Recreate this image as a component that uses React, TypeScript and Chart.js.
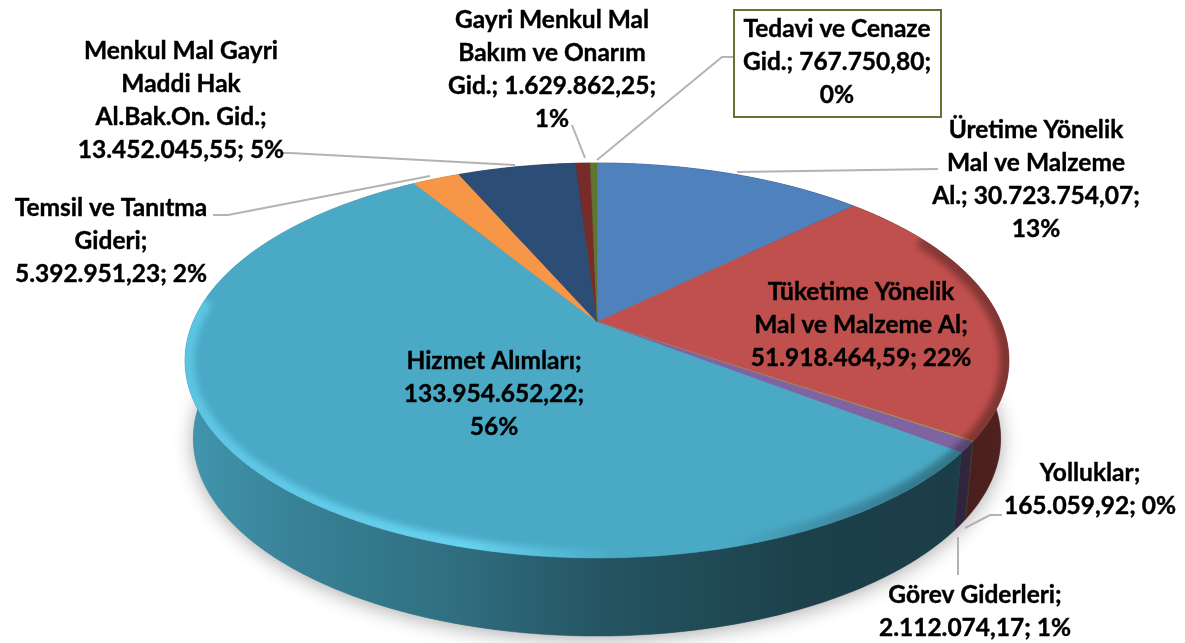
import React, { useEffect, useRef } from "react";
import { Chart, registerables } from "chart.js";

Chart.register(...registerables);

const categories = [
  "Üretime Yönelik Mal ve Malzeme Al.",
  "Tüketime Yönelik Mal ve Malzeme Al",
  "Yolluklar",
  "Görev Giderleri",
  "Hizmet Alımları",
  "Temsil ve Tanıtma Gideri",
  "Menkul Mal Gayri Maddi Hak Al.Bak.On. Gid.",
  "Gayri Menkul Mal Bakım ve Onarım Gid.",
  "Tedavi ve Cenaze Gid.",
];
const values = [
  30723754.07, 51918464.59, 165059.92, 2112074.17, 133954652.22, 5392951.23,
  13452045.55, 1629862.25, 767750.8,
];
const sliceColors = [
  "#4f81bd", "#c0504d", "#a9a84a", "#8064a2", "#4aaac6", "#f79646", "#2c4d75", "#772c2a", "#5f7530",
];
const labelLines = [
  ["Üretime Yönelik", "Mal ve Malzeme", "Al.; 30.723.754,07;", "13%"],
  ["Tüketime Yönelik", "Mal ve Malzeme Al;", "51.918.464,59; 22%"],
  ["Yolluklar;", "165.059,92; 0%"],
  ["Görev Giderleri;", "2.112.074,17; 1%"],
  ["Hizmet Alımları;", "133.954.652,22;", "56%"],
  ["Temsil ve Tanıtma", "Gideri;", "5.392.951,23; 2%"],
  ["Menkul Mal Gayri", "Maddi Hak", "Al.Bak.On. Gid.;", "13.452.045,55; 5%"],
  ["Gayri Menkul Mal", "Bakım ve Onarım", "Gid.; 1.629.862,25;", "1%"],
  ["Tedavi ve Cenaze", "Gid.; 767.750,80;", "0%"],
];

// Layout only (pixel placement of the annotations)
const labelAnchors: [number, number][] = [
  [1036, 130], [861, 292], [1090, 473], [975, 595], [494, 361], [111, 208], [181, 51], [552, 20], [837, 29],
];
const leaders: [number, number][][] = [
  [[737, 172], [938, 169]],
  [],
  [[965, 528], [990, 515], [1002, 515]],
  [[958, 537], [958, 575]],
  [],
  [[430, 176], [228, 215], [213, 215]],
  [[515, 165], [290, 153], [283, 153]],
  [[585, 158], [572, 125]],
  [[597, 160], [722, 57], [733, 57]],
];
const P = { cx: 597, cy: 322, A: 404, B: 190, p: 0.195, depth: 78, shrink: 0.98 };
const wallStops: [number, number][] = [
  [185, 0.88], [300, 0.76], [450, 0.65], [600, 0.5], [800, 0.38], [950, 0.36], [1010, 0.42],
];

function top(t: number): [number, number] {
  const w = 1 - P.p * Math.sin(t);
  return [P.cx + (P.A * Math.cos(t)) / w, P.cy + (P.B * Math.sin(t)) / w];
}
function bottom(t: number): [number, number] {
  const [x, y] = top(t);
  return [P.cx + (x - P.cx) * P.shrink, y + P.depth];
}
function rgb(hex: string, k: number) {
  const n = parseInt(hex.slice(1), 16);
  return `rgb(${((n >> 16) & 255) * k},${((n >> 8) & 255) * k},${(n & 255) * k})`;
}
function samples(a: number, b: number) {
  const out: number[] = [];
  const n = Math.max(2, Math.ceil((b - a) / 0.01));
  for (let i = 0; i <= n; i++) out.push(a + ((b - a) * i) / n);
  return out;
}

const pie3d = {
  id: "pie3d",
  beforeDatasetsDraw(chart: any) {
    const ctx: CanvasRenderingContext2D = chart.ctx;
    const arcs = chart.getDatasetMeta(0).data;
    ctx.save();
    // soft ground shadow
    ctx.save();
    ctx.shadowColor = "rgba(0,0,0,0.33)";
    ctx.shadowBlur = 20;
    ctx.shadowOffsetY = 3;
    ctx.fillStyle = "#888";
    ctx.beginPath();
    samples(0, Math.PI * 2).forEach((t) => ctx.lineTo(...bottom(t)));
    ctx.closePath();
    ctx.fill();
    ctx.restore();
    // outer walls
    arcs.forEach((arc: any, i: number) => {
      const g = ctx.createLinearGradient(185, 0, 1010, 0);
      wallStops.forEach(([x, k]) => g.addColorStop((x - 185) / 825, rgb(sliceColors[i], k)));
      ctx.fillStyle = g;
      ctx.strokeStyle = g;
      ctx.lineWidth = 0.5;
      const ts = samples(arc.startAngle, arc.endAngle);
      ctx.beginPath();
      ts.forEach((t) => ctx.lineTo(...top(t)));
      ts.slice().reverse().forEach((t) => ctx.lineTo(...bottom(t)));
      ctx.closePath();
      ctx.fill();
      ctx.stroke();
    });
    // top faces
    arcs.forEach((arc: any, i: number) => {
      ctx.fillStyle = sliceColors[i];
      ctx.strokeStyle = sliceColors[i];
      ctx.lineWidth = 0.4;
      ctx.beginPath();
      ctx.moveTo(P.cx, P.cy);
      samples(arc.startAngle, arc.endAngle).forEach((t) => ctx.lineTo(...top(t)));
      ctx.closePath();
      ctx.fill();
      ctx.stroke();
    });
    // bevel on the rim
    ctx.save();
    ctx.beginPath();
    samples(0, Math.PI * 2).forEach((t) => ctx.lineTo(...top(t)));
    ctx.closePath();
    ctx.clip();
    const rim = ctx.createLinearGradient(185, 0, 1010, 0);
    rim.addColorStop(0, "rgba(105,215,245,0.6)");
    rim.addColorStop(0.34, "rgba(115,225,255,0.72)");
    rim.addColorStop(0.52, "rgba(115,225,255,0)");
    rim.addColorStop(0.66, "rgba(0,0,0,0)");
    rim.addColorStop(0.88, "rgba(0,0,0,0.28)");
    rim.addColorStop(1, "rgba(0,0,0,0.34)");
    ctx.filter = "blur(3px)";
    ctx.strokeStyle = rim;
    ctx.lineWidth = 18;
    ctx.beginPath();
    samples(-0.5, Math.PI + 0.12).forEach((t) => ctx.lineTo(...top(t)));
    ctx.stroke();
    ctx.restore();
    ctx.restore();
    return false;
  },
  afterDraw(chart: any) {
    const ctx: CanvasRenderingContext2D = chart.ctx;
    ctx.save();
    ctx.strokeStyle = "#b3b3b3";
    ctx.lineWidth = 2;
    leaders.forEach((pts) => {
      if (!pts.length) return;
      ctx.beginPath();
      pts.forEach(([x, y]) => ctx.lineTo(x, y));
      ctx.stroke();
    });
    ctx.fillStyle = "#fff";
    ctx.fillRect(734, 10, 207, 107);
    ctx.strokeStyle = "#5f7530";
    ctx.strokeRect(734, 10, 207, 107);
    ctx.fillStyle = "#000";
    ctx.strokeStyle = "#000";
    ctx.lineWidth = 0.4;
    ctx.font = "bold 24.5px Lato";
    ctx.textAlign = "center";
    ctx.textBaseline = "middle";
    labelLines.forEach((lines, i) => {
      const [x, y] = labelAnchors[i];
      lines.forEach((s, j) => {
        ctx.fillText(s, x, y + j * 33);
        ctx.strokeText(s, x, y + j * 33);
      });
    });
    ctx.restore();
  },
};

export default function App() {
  const ref = useRef<HTMLCanvasElement>(null);
  useEffect(() => {
    document.body.style.margin = "0";
    const chart = new Chart(ref.current!, {
      type: "pie",
      data: {
        labels: categories,
        datasets: [{ data: values, backgroundColor: sliceColors, borderWidth: 0 }],
      },
      options: {
        responsive: false,
        animation: false,
        rotation: 0,
        plugins: { legend: { display: false }, tooltip: { enabled: false } },
      },
      plugins: [pie3d],
    } as any);
    return () => chart.destroy();
  }, []);
  return <canvas ref={ref} width={1185} height={643} style={{ display: "block" }} />;
}
